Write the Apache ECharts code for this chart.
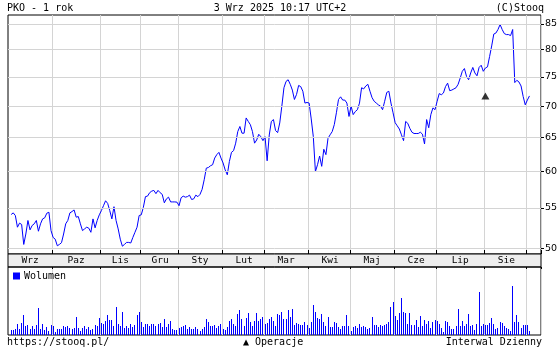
<!DOCTYPE html>
<html><head><meta charset="utf-8">
<script src="https://cdn.jsdelivr.net/npm/echarts@6/dist/echarts.min.js"></script>
<style>html,body{margin:0;padding:0;background:#fff}#c{width:560px;height:350px}</style>
</head><body><div id="c"></div>
<script>
// ---- data ----
const startDate = '2024-09-03';
const endDate = '2025-09-02';
const holidays = ['2024-11-01','2024-11-11','2024-12-24','2024-12-25','2024-12-26','2024-12-31',
  '2025-01-01','2025-01-06','2025-04-18','2025-04-21','2025-05-01','2025-06-19','2025-08-15'];
const monthNames = ['Sty','Lut','Mar','Kwi','Maj','Cze','Lip','Sie','Wrz','Paz','Lis','Gru'];
const yTicks = [50,55,60,65,70,75,80,85];

const closePrices = [
54.16,54.37,54.03,52.56,53.07,52.9,50.46,51.72,53.4,52.23,
52.77,52.98,53.4,52.06,52.98,53.6,53.74,54.33,54.45,52.14,
51.3,51.09,50.3,50.46,50.67,51.72,52.98,53.4,54.37,54.54,
54.75,53.82,53.9,52.98,52.14,52.35,52.56,52.44,51.93,53.6,
52.48,53.4,54.12,54.66,55.3,55.95,55.6,54.66,53.6,55.17,
53.4,52.35,51.09,50.25,50.46,50.7,50.7,50.63,51.3,51.93,
52.56,54.03,54.12,55.09,56.5,56.57,57.03,57.24,57.34,56.9,
57.34,57.03,56.8,55.68,56.2,56.43,55.8,55.8,55.8,55.77,
55.3,56.35,56.57,56.43,56.5,56.7,56.12,56.2,56.7,56.5,
56.8,57.48,58.8,60.44,60.53,60.78,60.93,61.9,62.4,62.74,
61.9,61.18,60.19,59.5,61.4,62.74,63.0,64.12,65.9,66.7,
65.65,65.65,68.06,67.5,66.98,65.9,64.12,64.6,65.48,65.1,
64.5,65.1,61.5,65.37,67.5,67.8,66.06,65.74,67.26,70,
73.1,74.2,74.5,73.7,72.7,71.1,71.95,73.5,73.3,72.5,
70.5,70.6,70.5,67.9,65.1,59.95,60.93,62.2,60.7,63.2,
62.4,64.85,65.4,65.9,67,68.9,71.1,71.55,71.0,71.0,
70.5,68.3,70,68.6,69.1,69.4,70.5,73.1,72.9,73.4,
73.7,72.5,71.4,70.8,70.5,70.2,70,69.4,70.8,72.3,
72.5,70.5,68.9,67.3,66.8,66.3,65.4,64.5,67.5,67.2,
66.4,65.8,65.6,65.6,65.6,65.8,65.5,64.0,67.8,66.5,
68.6,69.7,69.4,70.8,72.1,71.9,72.2,73.3,73.9,72.6,
72.7,72.9,73.1,73.7,74.8,76.0,76.5,75.1,74.5,75.7,
76.7,75.7,75.2,76.7,77.1,76.0,76.6,76.8,78.7,80.7,
83.0,83.2,83.9,84.9,83.9,83.1,82.9,82.9,82.7,83.9,
74.0,74.4,74.1,73.4,71.6,70.2,71.0,71.7
];

const volumes = [
14,15,17,32,17,35,60,27,30,17,
27,17,29,81,17,33,14,24,12,29,
27,10,19,17,17,27,24,27,20,17,
20,54,22,12,22,26,17,23,14,17,
29,28,51,35,32,42,60,45,45,27,
84,32,27,69,20,27,20,33,25,29,
60,69,39,24,33,33,27,32,33,28,
32,35,24,48,24,32,42,18,15,15,
22,24,27,30,17,24,18,18,24,17,
12,17,24,48,40,27,27,31,22,27,
33,17,14,24,41,48,33,28,63,75,
48,27,51,66,40,27,42,66,41,48,
54,33,36,48,
52,42,27,61,60,69,49,49,73,52,
76,31,37,32,29,29,40,30,22,38,
90,67,51,49,61,38,27,52,25,25,
40,37,25,19,28,27,58,27,13,25,
28,22,32,25,28,24,19,21,54,31,
31,25,30,26,29,34,40,84,99,55,
45,66,111,69,64,33,64,31,31,45,
25,57,26,44,34,42,22,40,45,42,
34,22,10,41,38,27,18,17,27,78,
28,42,28,34,61,26,29,14,33,129,
26,33,31,31,36,51,34,17,21,38,
37,28,21,19,12,147,39,60,39,22,
30,29,31,12
];

const operations = [{ date: '2025-08-01', level: 71.7 }];

// ---- categories: trading days ----
function buildDays() {
  const out = [];
  let t = Date.parse(startDate + 'T00:00:00Z');
  const e = Date.parse(endDate + 'T00:00:00Z');
  while (t <= e) {
    const d = new Date(t);
    const wd = d.getUTCDay();
    const s = d.toISOString().slice(0, 10);
    if (wd !== 0 && wd !== 6 && holidays.indexOf(s) < 0) out.push(s);
    t += 86400000;
  }
  return out;
}
const days = buildDays();
const padBefore = 1, padAfter = 5;
const cats = [];
for (let i = 0; i < padBefore; i++) cats.push('');
days.forEach(d => cats.push(d));
for (let i = 0; i < padAfter; i++) cats.push('');
const N = cats.length;

function isMonthStart(k) {
  return !!(cats[k] && cats[k - 1] && cats[k].slice(0, 7) !== cats[k - 1].slice(0, 7));
}
const starts = [0];
for (let k = 1; k < N; k++) if (isMonthStart(k)) starts.push(k);
const labelAt = {};
for (let s = 0; s < starts.length; s++) {
  const a = starts[s], b = s + 1 < starts.length ? starts[s + 1] : N;
  const seg = cats.slice(a, b).filter(Boolean);
  if (seg.length >= 5) {
    labelAt[Math.round((a + b) / 2 - 0.5)] = monthNames[+seg[0].slice(5, 7) - 1];
  }
}

const priceData = cats.map((c, k) => (c && k - padBefore < closePrices.length) ? closePrices[k - padBefore] : null);
const volData = cats.map((c, k) => [k, (c && k - padBefore < volumes.length) ? volumes[k - padBefore] : null]).filter(d => d[1] != null);
const opData = operations.map(o => [cats.indexOf(o.date), o.level]);

// ---- chart ----
const MONO = 'DejaVu Sans Mono';
const GRID_C = '#d4d4d4';
const BLUE = '#0000ff';
const monthFn = (idx) => isMonthStart(idx);
const logBase = { type: 'log', logBase: 10, min: 49.33, max: 86.83, gridIndex: 0 };
const txt = (text, pos) => Object.assign({ text, padding: 0,
  textStyle: { fontFamily: MONO, fontSize: 10, fontWeight: 'normal', color: '#000' } }, pos);
const gridBase = { left: 8, width: 533, show: true, borderColor: '#000', borderWidth: 1,
  containLabel: false, outerBoundsMode: 'none' };

const chart = echarts.init(document.getElementById('c'), null, { renderer: 'canvas' });
chart.setOption({
  animation: false,
  backgroundColor: '#fff',
  title: [
    txt('PKO - 1 rok', { left: 7, top: 3 }),
    txt('3 Wrz 2025 10:17 UTC+2', { left: 'center', top: 3 }),
    txt('(C)Stooq', { right: 16, top: 3 }),
    txt('https://stooq.pl/', { left: 7, top: 337 }),
    txt('\u25B2 Operacje', { left: 243, top: 337 }),
    txt('Interwal Dzienny', { right: 18, top: 337 })
  ],
  legend: {
    data: ['Wolumen'], left: 13, top: 271, padding: 0, itemGap: 0,
    icon: 'rect', itemWidth: 7, itemHeight: 7,
    textStyle: { fontFamily: MONO, fontSize: 10, color: '#000', padding: [0, 0, 0, -1] },
    selectedMode: false
  },
  grid: [
    Object.assign({}, gridBase, { top: 15, height: 239 }),
    Object.assign({}, gridBase, { top: 254, height: 13, backgroundColor: '#eeeeee' }),
    Object.assign({}, gridBase, { top: 267, height: 68 })
  ],
  xAxis: [
    { type: 'category', gridIndex: 0, data: cats, boundaryGap: true,
      axisLine: { show: false },
      axisTick: { show: true, inside: true, length: 4, interval: monthFn, lineStyle: { color: '#000' } },
      axisLabel: { show: false },
      splitLine: { show: true, interval: monthFn, lineStyle: { color: GRID_C, width: 1 } } },
    { type: 'category', gridIndex: 1, data: cats, boundaryGap: true, position: 'top',
      axisLine: { show: false },
      axisTick: { show: true, inside: true, length: 2, interval: monthFn, lineStyle: { color: '#000' } },
      axisLabel: { show: true, inside: true, margin: 2, interval: (i) => labelAt[i] !== undefined,
        formatter: (v, i) => labelAt[i] || '', fontFamily: MONO, fontSize: 9.5, color: '#000' },
      splitLine: { show: false } },
    { type: 'category', gridIndex: 2, data: cats, boundaryGap: true,
      axisLine: { show: false }, axisTick: { show: false }, axisLabel: { show: false },
      splitLine: { show: true, interval: monthFn, lineStyle: { color: GRID_C, width: 1 } } }
  ],
  yAxis: [
    Object.assign({}, logBase, { position: 'right',
      axisLine: { show: false },
      axisTick: { show: true, length: 3, customValues: yTicks, lineStyle: { color: '#000' } },
      axisLabel: { show: true, customValues: yTicks, margin: 4, fontFamily: 'DejaVu Sans', fontSize: 9.5, color: '#000' },
      splitLine: { show: false } }),
    Object.assign({}, logBase, { position: 'left',
      axisLine: { show: false },
      axisTick: { show: true, inside: true, length: 4, customValues: yTicks, lineStyle: { color: '#000' } },
      axisLabel: { show: false }, splitLine: { show: false } }),
    Object.assign({}, logBase, { position: 'right',
      axisLine: { show: false },
      axisTick: { show: true, inside: true, length: 3, customValues: yTicks, lineStyle: { color: '#000' } },
      axisLabel: { show: false }, splitLine: { show: false } }),
    { type: 'value', gridIndex: 1, show: false, min: 0, max: 1 },
    { type: 'value', gridIndex: 2, show: false, min: 0, max: 202, splitLine: { show: false } }
  ],
  series: [
    { name: 'grid', type: 'line', xAxisIndex: 0, yAxisIndex: 0, data: cats.map(() => null),
      silent: true, z: 1, showSymbol: false, symbol: 'none',
      markLine: { silent: true, symbol: 'none', label: { show: false }, animation: false,
        lineStyle: { color: GRID_C, type: 'solid', width: 1 },
        emphasis: { disabled: true },
        data: yTicks.map(v => ({ yAxis: v })) } },
    { name: 'PKO', type: 'line', xAxisIndex: 0, yAxisIndex: 0, data: priceData,
      showSymbol: false, symbol: 'none', connectNulls: false,
      lineStyle: { color: BLUE, width: 1 }, itemStyle: { color: BLUE }, z: 3 },
    { name: 'Operacje', type: 'scatter', xAxisIndex: 0, yAxisIndex: 0, data: opData,
      symbol: 'triangle', symbolSize: [8, 7], itemStyle: { color: '#000' }, z: 4 },
    { name: 'Wolumen', type: 'custom', xAxisIndex: 2, yAxisIndex: 4, data: volData,
      itemStyle: { color: BLUE },
      encode: { x: 0, y: 1 },
      renderItem: function (params, api) {
        const top = api.coord([api.value(0), api.value(1)]);
        const base = api.coord([api.value(0), 0]);
        const x = Math.floor(top[0]);
        const y = Math.round(top[1]);
        return { type: 'rect', shape: { x: x, y: y, width: 1, height: Math.round(base[1]) - y },
          style: { fill: BLUE } };
      } }
  ]
});
</script>
</body></html>
